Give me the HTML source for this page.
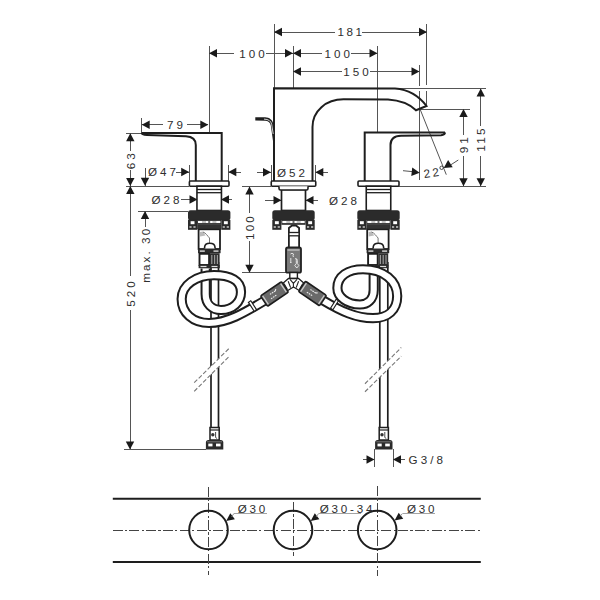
<!DOCTYPE html>
<html><head><meta charset="utf-8"><style>
html,body{margin:0;padding:0;background:#fff;width:600px;height:600px;overflow:hidden}
svg{display:block}
text{font-family:"Liberation Sans",sans-serif;fill:#2e2e2e}
</style></head><body>
<svg width="600" height="600" viewBox="0 0 600 600">
<rect width="600" height="600" fill="#fff"/>
<line x1="274" y1="24" x2="274" y2="88" stroke="#555555" stroke-width="1.0"  shape-rendering="crispEdges"/>
<line x1="426.3" y1="24" x2="426.3" y2="85" stroke="#555555" stroke-width="1.0"  shape-rendering="crispEdges"/>
<line x1="426.3" y1="90.5" x2="426.3" y2="105" stroke="#555555" stroke-width="1.0"  shape-rendering="crispEdges"/>
<line x1="274" y1="32" x2="335" y2="32" stroke="#555555" stroke-width="1.0"  shape-rendering="crispEdges"/>
<line x1="362" y1="32" x2="427" y2="32" stroke="#555555" stroke-width="1.0"  shape-rendering="crispEdges"/>
<polygon points="274.00,32.00 282.00,27.80 282.00,36.20" fill="#1a1a1a"/>
<polygon points="427.00,32.00 419.00,27.80 419.00,36.20" fill="#1a1a1a"/>
<text x="351" y="31.9" font-size="11.625" letter-spacing="2.6" text-anchor="middle" dominant-baseline="central">181</text>
<line x1="209" y1="46" x2="209" y2="133" stroke="#555555" stroke-width="1.0"  shape-rendering="crispEdges"/>
<line x1="293" y1="46" x2="293" y2="88" stroke="#555555" stroke-width="1.0"  shape-rendering="crispEdges"/>
<line x1="377.5" y1="46" x2="377.5" y2="133" stroke="#555555" stroke-width="1.0"  shape-rendering="crispEdges"/>
<line x1="209" y1="53.3" x2="234" y2="53.3" stroke="#555555" stroke-width="1.0"  shape-rendering="crispEdges"/>
<line x1="266" y1="53.3" x2="293" y2="53.3" stroke="#555555" stroke-width="1.0"  shape-rendering="crispEdges"/>
<polygon points="209.00,53.30 217.00,49.10 217.00,57.50" fill="#1a1a1a"/>
<polygon points="293.00,53.30 285.00,49.10 285.00,57.50" fill="#1a1a1a"/>
<text x="253.5" y="53.199999999999996" font-size="11.625" letter-spacing="3.1" text-anchor="middle" dominant-baseline="central">100</text>
<line x1="293" y1="53.3" x2="322" y2="53.3" stroke="#555555" stroke-width="1.0"  shape-rendering="crispEdges"/>
<line x1="351" y1="53.3" x2="377.5" y2="53.3" stroke="#555555" stroke-width="1.0"  shape-rendering="crispEdges"/>
<polygon points="293.00,53.30 301.00,49.10 301.00,57.50" fill="#1a1a1a"/>
<polygon points="377.50,53.30 369.50,49.10 369.50,57.50" fill="#1a1a1a"/>
<text x="338.8" y="53.199999999999996" font-size="11.625" letter-spacing="3.1" text-anchor="middle" dominant-baseline="central">100</text>
<line x1="419.8" y1="65" x2="419.8" y2="86" stroke="#555555" stroke-width="1.0"  shape-rendering="crispEdges"/>
<line x1="419.8" y1="91" x2="419.8" y2="179.5" stroke="#555555" stroke-width="1.0"  shape-rendering="crispEdges"/>
<line x1="293" y1="71.5" x2="342" y2="71.5" stroke="#555555" stroke-width="1.0"  shape-rendering="crispEdges"/>
<line x1="370" y1="71.5" x2="419.5" y2="71.5" stroke="#555555" stroke-width="1.0"  shape-rendering="crispEdges"/>
<polygon points="293.00,71.50 301.00,67.30 301.00,75.70" fill="#1a1a1a"/>
<polygon points="419.50,71.50 411.50,67.30 411.50,75.70" fill="#1a1a1a"/>
<text x="357.5" y="71.4" font-size="11.625" letter-spacing="3.1" text-anchor="middle" dominant-baseline="central">150</text>
<line x1="395" y1="88.5" x2="486" y2="88.5" stroke="#555555" stroke-width="1.0"  shape-rendering="crispEdges"/>
<line x1="480.75" y1="88.5" x2="480.75" y2="126.3" stroke="#555555" stroke-width="1.0"  shape-rendering="crispEdges"/>
<line x1="480.75" y1="156.3" x2="480.75" y2="186" stroke="#555555" stroke-width="1.0"  shape-rendering="crispEdges"/>
<polygon points="480.75,88.50 476.55,96.50 484.95,96.50" fill="#1a1a1a"/>
<polygon points="480.75,186.20 476.55,178.20 484.95,178.20" fill="#1a1a1a"/>
<text x="480.4" y="139" font-size="11.625" letter-spacing="2.4" text-anchor="middle" dominant-baseline="central" transform="rotate(-90 480.4 139)">115</text>
<line x1="420" y1="109" x2="470" y2="109" stroke="#555555" stroke-width="1.0"  shape-rendering="crispEdges"/>
<line x1="463.5" y1="109" x2="463.5" y2="134.5" stroke="#555555" stroke-width="1.0"  shape-rendering="crispEdges"/>
<line x1="463.5" y1="156.3" x2="463.5" y2="186" stroke="#555555" stroke-width="1.0"  shape-rendering="crispEdges"/>
<polygon points="463.50,109.00 459.30,117.00 467.70,117.00" fill="#1a1a1a"/>
<polygon points="463.50,186.20 459.30,178.20 467.70,178.20" fill="#1a1a1a"/>
<text x="463.29999999999995" y="143.8" font-size="11.625" letter-spacing="3.1" text-anchor="middle" dominant-baseline="central" transform="rotate(-90 463.29999999999995 143.8)">91</text>
<line x1="397" y1="186" x2="486" y2="186" stroke="#555555" stroke-width="1.0"  shape-rendering="crispEdges"/>
<line x1="420" y1="109" x2="446.3" y2="174.7" stroke="#555555" stroke-width="1.0" />
<line x1="403" y1="170.7" x2="412" y2="171.6" stroke="#555555" stroke-width="1.0" />
<polygon points="419.70,172.70 411.25,175.89 412.27,167.56" fill="#1a1a1a"/>
<line x1="458.3" y1="160" x2="451" y2="164.7" stroke="#555555" stroke-width="1.0" />
<polygon points="443.70,168.00 448.12,160.12 452.70,167.17" fill="#1a1a1a"/>
<text x="432.5" y="172.3" font-size="11.625" letter-spacing="2.6" text-anchor="middle" dominant-baseline="central" transform="rotate(-8 432.5 172.3)">22</text>
<circle cx="441.6" cy="167.8" r="1.7" fill="none" stroke="#333" stroke-width="0.9"/>
<line x1="141.7" y1="118" x2="141.7" y2="133" stroke="#555555" stroke-width="1.0"  shape-rendering="crispEdges"/>
<line x1="141.7" y1="124.7" x2="163" y2="124.7" stroke="#555555" stroke-width="1.0"  shape-rendering="crispEdges"/>
<line x1="187" y1="124.7" x2="208.3" y2="124.7" stroke="#555555" stroke-width="1.0"  shape-rendering="crispEdges"/>
<polygon points="141.70,124.70 149.70,120.50 149.70,128.90" fill="#1a1a1a"/>
<polygon points="208.30,124.70 200.30,120.50 200.30,128.90" fill="#1a1a1a"/>
<text x="176.5" y="124.60000000000001" font-size="11.625" letter-spacing="3.1" text-anchor="middle" dominant-baseline="central">79</text>
<line x1="125.5" y1="133.2" x2="141.7" y2="133.2" stroke="#555555" stroke-width="1.0"  shape-rendering="crispEdges"/>
<line x1="130.3" y1="133" x2="130.3" y2="150.7" stroke="#555555" stroke-width="1.0"  shape-rendering="crispEdges"/>
<line x1="130.3" y1="169.5" x2="130.3" y2="186" stroke="#555555" stroke-width="1.0"  shape-rendering="crispEdges"/>
<polygon points="130.30,133.20 126.10,141.20 134.50,141.20" fill="#1a1a1a"/>
<polygon points="130.30,186.00 126.10,178.00 134.50,178.00" fill="#1a1a1a"/>
<text x="130.9" y="159.8" font-size="11.625" letter-spacing="3.1" text-anchor="middle" dominant-baseline="central" transform="rotate(-90 130.9 159.8)">63</text>
<line x1="125.5" y1="186" x2="188.7" y2="186" stroke="#555555" stroke-width="1.0"  shape-rendering="crispEdges"/>
<line x1="189.2" y1="165" x2="189.2" y2="181" stroke="#555555" stroke-width="1.0"  shape-rendering="crispEdges"/>
<line x1="228.3" y1="165" x2="228.3" y2="181" stroke="#555555" stroke-width="1.0"  shape-rendering="crispEdges"/>
<line x1="176" y1="172" x2="189.2" y2="172" stroke="#555555" stroke-width="1.0"  shape-rendering="crispEdges"/>
<polygon points="189.20,172.00 181.20,167.80 181.20,176.20" fill="#1a1a1a"/>
<line x1="228.3" y1="172" x2="241" y2="172" stroke="#555555" stroke-width="1.0"  shape-rendering="crispEdges"/>
<polygon points="228.30,172.00 236.30,167.80 236.30,176.20" fill="#1a1a1a"/>
<text x="163.5" y="171.9" font-size="11.625" letter-spacing="3.1" text-anchor="middle" dominant-baseline="central">Ø47</text>
<line x1="145" y1="168" x2="145" y2="186" stroke="#555555" stroke-width="1.0"  shape-rendering="crispEdges"/>
<polygon points="145.00,185.80 140.80,177.80 149.20,177.80" fill="#1a1a1a"/>
<line x1="271" y1="165" x2="271" y2="181" stroke="#555555" stroke-width="1.0"  shape-rendering="crispEdges"/>
<line x1="315.3" y1="165" x2="315.3" y2="181" stroke="#555555" stroke-width="1.0"  shape-rendering="crispEdges"/>
<line x1="257" y1="172.3" x2="271" y2="172.3" stroke="#555555" stroke-width="1.0"  shape-rendering="crispEdges"/>
<polygon points="271.00,172.30 263.00,168.10 263.00,176.50" fill="#1a1a1a"/>
<line x1="315.3" y1="172.3" x2="328" y2="172.3" stroke="#555555" stroke-width="1.0"  shape-rendering="crispEdges"/>
<polygon points="315.30,172.30 323.30,168.10 323.30,176.50" fill="#1a1a1a"/>
<text x="292.5" y="172.20000000000002" font-size="11.625" letter-spacing="3.1" text-anchor="middle" dominant-baseline="central">Ø52</text>
<line x1="181" y1="199.5" x2="197.5" y2="199.5" stroke="#555555" stroke-width="1.0"  shape-rendering="crispEdges"/>
<polygon points="197.50,199.50 189.50,195.30 189.50,203.70" fill="#1a1a1a"/>
<line x1="221" y1="199.5" x2="232" y2="199.5" stroke="#555555" stroke-width="1.0"  shape-rendering="crispEdges"/>
<polygon points="221.00,199.50 229.00,195.30 229.00,203.70" fill="#1a1a1a"/>
<text x="167" y="199.4" font-size="11.625" letter-spacing="3.1" text-anchor="middle" dominant-baseline="central">Ø28</text>
<line x1="265" y1="200.3" x2="281.5" y2="200.3" stroke="#555555" stroke-width="1.0"  shape-rendering="crispEdges"/>
<polygon points="281.50,200.30 273.50,196.10 273.50,204.50" fill="#1a1a1a"/>
<line x1="305.5" y1="200.3" x2="318.3" y2="200.3" stroke="#555555" stroke-width="1.0"  shape-rendering="crispEdges"/>
<polygon points="305.50,200.30 313.50,196.10 313.50,204.50" fill="#1a1a1a"/>
<text x="344.5" y="200.20000000000002" font-size="11.625" letter-spacing="3.1" text-anchor="middle" dominant-baseline="central">Ø28</text>
<line x1="242" y1="186.5" x2="271" y2="186.5" stroke="#555555" stroke-width="1.0"  shape-rendering="crispEdges"/>
<line x1="242" y1="272.8" x2="286" y2="272.8" stroke="#555555" stroke-width="1.0"  shape-rendering="crispEdges"/>
<line x1="249.5" y1="186.5" x2="249.5" y2="213.3" stroke="#555555" stroke-width="1.0"  shape-rendering="crispEdges"/>
<line x1="249.5" y1="240.8" x2="249.5" y2="272.8" stroke="#555555" stroke-width="1.0"  shape-rendering="crispEdges"/>
<polygon points="249.50,186.50 245.30,194.50 253.70,194.50" fill="#1a1a1a"/>
<polygon points="249.50,272.80 245.30,264.80 253.70,264.80" fill="#1a1a1a"/>
<text x="249.1" y="227" font-size="11.625" letter-spacing="2.2" text-anchor="middle" dominant-baseline="central" transform="rotate(-90 249.1 227)">100</text>
<line x1="137.5" y1="211.3" x2="188" y2="211.3" stroke="#555555" stroke-width="1.0"  shape-rendering="crispEdges"/>
<line x1="145" y1="211.3" x2="145" y2="227" stroke="#555555" stroke-width="1.0"  shape-rendering="crispEdges"/>
<polygon points="145.00,211.00 140.80,219.00 149.20,219.00" fill="#1a1a1a"/>
<text x="145.4" y="254.8" font-size="11.625" letter-spacing="2.1" text-anchor="middle" dominant-baseline="central" transform="rotate(-90 145.4 254.8)">max. 30</text>
<line x1="130" y1="186" x2="130" y2="276" stroke="#555555" stroke-width="1.0"  shape-rendering="crispEdges"/>
<line x1="130" y1="310" x2="130" y2="449.5" stroke="#555555" stroke-width="1.0"  shape-rendering="crispEdges"/>
<polygon points="130.30,186.00 126.10,194.00 134.50,194.00" fill="#1a1a1a"/>
<polygon points="130.00,449.50 125.80,441.50 134.20,441.50" fill="#1a1a1a"/>
<text x="130.4" y="292.5" font-size="11.625" letter-spacing="3.1" text-anchor="middle" dominant-baseline="central" transform="rotate(-90 130.4 292.5)">520</text>
<line x1="124" y1="449.5" x2="206" y2="449.5" stroke="#555555" stroke-width="1.0"  shape-rendering="crispEdges"/>
<line x1="374.5" y1="449" x2="374.5" y2="467" stroke="#555555" stroke-width="1.0"  shape-rendering="crispEdges"/>
<line x1="393" y1="449" x2="393" y2="467" stroke="#555555" stroke-width="1.0"  shape-rendering="crispEdges"/>
<line x1="362.5" y1="459.5" x2="374.5" y2="459.5" stroke="#555555" stroke-width="1.0"  shape-rendering="crispEdges"/>
<polygon points="374.50,459.50 366.50,455.30 366.50,463.70" fill="#1a1a1a"/>
<line x1="393" y1="459.5" x2="405" y2="459.5" stroke="#555555" stroke-width="1.0"  shape-rendering="crispEdges"/>
<polygon points="393.00,459.50 401.00,455.30 401.00,463.70" fill="#1a1a1a"/>
<text x="408.5" y="459.4" font-size="11.625" letter-spacing="3.1" text-anchor="start" dominant-baseline="central">G3/8</text>
<rect x="211" y="262" width="7.5" height="166" fill="#fff"/>
<line x1="211" y1="262" x2="211" y2="428" stroke="#1e1e1e" stroke-width="1.7" />
<line x1="218.5" y1="262" x2="218.5" y2="428" stroke="#1e1e1e" stroke-width="1.7" />
<rect x="379.8" y="262" width="8.0" height="166" fill="#fff"/>
<line x1="379.8" y1="262" x2="379.8" y2="428" stroke="#1e1e1e" stroke-width="1.7" />
<line x1="387.8" y1="262" x2="387.8" y2="428" stroke="#1e1e1e" stroke-width="1.7" />
<polygon points="194.2,382.7 230,347.5 230,355.6 194.2,391.3" fill="#fff"/>
<line x1="194.2" y1="382.7" x2="230" y2="347.5" stroke="#777" stroke-width="1.1" stroke-dasharray="4.3 2"/>
<line x1="194.2" y1="391.3" x2="230" y2="355.6" stroke="#777" stroke-width="1.1" stroke-dasharray="4.3 2"/>
<polygon points="365,383.75 401.25,347.5 401.25,356.25 365,391.75" fill="#fff"/>
<line x1="365" y1="383.75" x2="401.25" y2="347.5" stroke="#777" stroke-width="1.1" stroke-dasharray="4.3 2"/>
<line x1="365" y1="391.75" x2="401.25" y2="356.25" stroke="#777" stroke-width="1.1" stroke-dasharray="4.3 2"/>
<rect x="210.0" y="427.5" width="9.2" height="12.5" rx="0" fill="#fff" stroke="#1e1e1e" stroke-width="1.5"/>
<line x1="210.0" y1="430" x2="219.2" y2="430" stroke="#1e1e1e" stroke-width="1.2" />
<path d="M205.9,449.5 L205.9,442.5 Q205.9,440 208.4,440 L220.79999999999998,440 Q223.29999999999998,440 223.29999999999998,442.5 L223.29999999999998,449.5 Z" fill="#2a2a2a"/>
<rect x="208.29999999999998" y="443.6" width="4.2" height="2.8" rx="0" fill="#fff" stroke="#1e1e1e" stroke-width="0"/>
<rect x="216.0" y="443.6" width="4.6" height="2.8" rx="0" fill="#fff" stroke="#1e1e1e" stroke-width="0"/>
<circle cx="212.79999999999998" cy="434.8" r="1.7" fill="#333"/>
<path d="M215.6,432 L215.6,437.5 L217.1,438.5" stroke="#333" stroke-width="0.9" fill="none"/>
<rect x="207.1" y="441.3" width="15" height="1" fill="#777"/>
<rect x="379.2" y="427.5" width="9.2" height="12.5" rx="0" fill="#fff" stroke="#1e1e1e" stroke-width="1.5"/>
<line x1="379.2" y1="430" x2="388.40000000000003" y2="430" stroke="#1e1e1e" stroke-width="1.2" />
<path d="M375.1,449.5 L375.1,442.5 Q375.1,440 377.6,440 L390.0,440 Q392.5,440 392.5,442.5 L392.5,449.5 Z" fill="#2a2a2a"/>
<rect x="377.5" y="443.6" width="4.2" height="2.8" rx="0" fill="#fff" stroke="#1e1e1e" stroke-width="0"/>
<rect x="385.2" y="443.6" width="4.6" height="2.8" rx="0" fill="#fff" stroke="#1e1e1e" stroke-width="0"/>
<circle cx="382.0" cy="434.8" r="1.7" fill="#333"/>
<path d="M384.8,432 L384.8,437.5 L386.3,438.5" stroke="#333" stroke-width="0.9" fill="none"/>
<rect x="376.3" y="441.3" width="15" height="1" fill="#777"/>
<path d="M141.7,133 L221.7,133 L221.7,181 M195.8,181 L195.8,145 C195.8,139.5 192,136.5 186,136.2 L147,135 C143,134.8 141.7,134 141.7,133" stroke="#1e1e1e" stroke-width="2.0" fill="none" />
<path d="M445,132.5 L364.7,132.5 L364.7,181 M390.5,181 L390.5,145 C390.5,139 393.5,136 401,135.8 L441,135.2 C444,135 445,134 445,132.5" stroke="#1e1e1e" stroke-width="2.0" fill="none" />
<path d="M274,181.5 L274,88.3 L395,88.5 C408,89.5 419,96 426.5,106 L416,110.3 C411,105.5 402,100.5 388,99.6 L343.5,99.3 C326,99.3 312.5,111 312.5,127 L312.5,181.5" stroke="#1e1e1e" stroke-width="2.0" fill="none" />
<path d="M255.3,117.2 L265,117.3 C269.5,117.4 272.6,120 273.3,124 L274.6,141 L273,141 L270.8,125.5 C270.3,122.3 268,120.9 265,120.8 L255.3,120.6 Z" fill="#1e1e1e"/>
<path d="M264,119.1 C268.5,119.2 271,121 271.7,124.3 L273.2,134" stroke="#fff" stroke-width="0.8" fill="none"/>
<rect x="189.39999999999998" y="181" width="39.6" height="5.2" rx="1" fill="#fff" stroke="#1e1e1e" stroke-width="1.6"/>
<rect x="196.95" y="186.2" width="24.5" height="24.3" rx="0" fill="#fff" stroke="#1e1e1e" stroke-width="1.6"/>
<line x1="196.95" y1="189.5" x2="221.45" y2="189.5" stroke="#1e1e1e" stroke-width="1.3" />
<line x1="196.95" y1="192.7" x2="221.45" y2="192.7" stroke="#1e1e1e" stroke-width="1.3" />
<rect x="188.0" y="210.3" width="42.4" height="10" rx="2.5" fill="#2b2b2b"/>
<rect x="188.0" y="219.8" width="9.1" height="10" fill="#2b2b2b"/>
<rect x="190.6" y="221.2" width="3.9" height="3" fill="#fff"/>
<rect x="189.4" y="226.4" width="2.2" height="1.2" fill="#eee"/>
<rect x="193.4" y="226.4" width="2.2" height="1.2" fill="#eee"/>
<rect x="221.29999999999998" y="219.8" width="9.1" height="10" fill="#2b2b2b"/>
<rect x="223.89999999999998" y="221.2" width="3.9" height="3" fill="#fff"/>
<rect x="222.7" y="226.4" width="2.2" height="1.2" fill="#eee"/>
<rect x="226.7" y="226.4" width="2.2" height="1.2" fill="#eee"/>
<rect x="197.1" y="219.8" width="24.2" height="5" fill="#2b2b2b"/>
<rect x="198.0" y="220.9" width="22.4" height="2.2" fill="#fff"/>
<rect x="202.0" y="221.6" width="4" height="0.8" fill="#666"/>
<rect x="212.39999999999998" y="221.6" width="4" height="0.8" fill="#666"/>
<rect x="208.2" y="221.2" width="2" height="1.6" fill="#444"/>
<rect x="197.1" y="224.5" width="24.2" height="4.8" fill="#333"/>
<rect x="198.0" y="228.8" width="22.4" height="1.6" fill="#999"/>
<rect x="271.25" y="181" width="44.5" height="5.2" rx="1" fill="#fff" stroke="#1e1e1e" stroke-width="1.6"/>
<rect x="281.5" y="189.5" width="24" height="21" rx="0" fill="#fff" stroke="#1e1e1e" stroke-width="1.7"/>
<path d="M279.0,186.2 L279.0,188.5 Q279.0,190 280.5,190 L306.5,190 Q308.0,190 308.0,188.5 L308.0,186.2" fill="#fff" stroke="#1e1e1e" stroke-width="1.6"/>
<rect x="272.3" y="210.3" width="42.4" height="10" rx="2.5" fill="#2b2b2b"/>
<rect x="272.3" y="219.8" width="9.1" height="10" fill="#2b2b2b"/>
<rect x="274.90000000000003" y="221.2" width="3.9" height="3" fill="#fff"/>
<rect x="273.7" y="226.4" width="2.2" height="1.2" fill="#eee"/>
<rect x="277.7" y="226.4" width="2.2" height="1.2" fill="#eee"/>
<rect x="305.59999999999997" y="219.8" width="9.1" height="10" fill="#2b2b2b"/>
<rect x="308.2" y="221.2" width="3.9" height="3" fill="#fff"/>
<rect x="306.99999999999994" y="226.4" width="2.2" height="1.2" fill="#eee"/>
<rect x="310.99999999999994" y="226.4" width="2.2" height="1.2" fill="#eee"/>
<rect x="281.40000000000003" y="219.8" width="24.2" height="5" fill="#2b2b2b"/>
<rect x="282.3" y="220.9" width="22.4" height="2.2" fill="#fff"/>
<rect x="286.3" y="221.6" width="4" height="0.8" fill="#666"/>
<rect x="296.7" y="221.6" width="4" height="0.8" fill="#666"/>
<rect x="292.5" y="221.2" width="2" height="1.6" fill="#444"/>
<rect x="358.0" y="181" width="41" height="5.2" rx="1" fill="#fff" stroke="#1e1e1e" stroke-width="1.6"/>
<rect x="366.25" y="186.2" width="24.5" height="24.3" rx="0" fill="#fff" stroke="#1e1e1e" stroke-width="1.6"/>
<line x1="366.25" y1="189.5" x2="390.75" y2="189.5" stroke="#1e1e1e" stroke-width="1.3" />
<line x1="366.25" y1="192.7" x2="390.75" y2="192.7" stroke="#1e1e1e" stroke-width="1.3" />
<rect x="357.3" y="210.3" width="42.4" height="10" rx="2.5" fill="#2b2b2b"/>
<rect x="357.3" y="219.8" width="9.1" height="10" fill="#2b2b2b"/>
<rect x="359.90000000000003" y="221.2" width="3.9" height="3" fill="#fff"/>
<rect x="358.7" y="226.4" width="2.2" height="1.2" fill="#eee"/>
<rect x="362.7" y="226.4" width="2.2" height="1.2" fill="#eee"/>
<rect x="390.59999999999997" y="219.8" width="9.1" height="10" fill="#2b2b2b"/>
<rect x="393.2" y="221.2" width="3.9" height="3" fill="#fff"/>
<rect x="391.99999999999994" y="226.4" width="2.2" height="1.2" fill="#eee"/>
<rect x="395.99999999999994" y="226.4" width="2.2" height="1.2" fill="#eee"/>
<rect x="366.40000000000003" y="219.8" width="24.2" height="5" fill="#2b2b2b"/>
<rect x="367.3" y="220.9" width="22.4" height="2.2" fill="#fff"/>
<rect x="371.3" y="221.6" width="4" height="0.8" fill="#666"/>
<rect x="381.7" y="221.6" width="4" height="0.8" fill="#666"/>
<rect x="377.5" y="221.2" width="2" height="1.6" fill="#444"/>
<rect x="366.40000000000003" y="224.5" width="24.2" height="4.8" fill="#333"/>
<rect x="367.3" y="228.8" width="22.4" height="1.6" fill="#999"/>
<rect x="198.6" y="229.3" width="21.4" height="19.7" rx="0" fill="#fff" stroke="#1e1e1e" stroke-width="1.8"/>
<path d="M200,232 L203,231.5 L205.5,235.5 L200,236.5 Z" fill="#bbb"/>
<path d="M203,232 C206,233 207.5,236 209.5,238 L209.5,243" stroke="#777" stroke-width="1.0" fill="none" />
<path d="M204.6,248.5 L204.6,247 Q205,243.3 209.8,243.3 Q214.6,243.3 215,247 L215,248.5" stroke="#1e1e1e" stroke-width="1.6" fill="#fff" />
<rect x="198" y="249" width="22.6" height="4.2" fill="#2a2a2a"/>
<rect x="199.8" y="250.4" width="5" height="1.4" fill="#ddd"/>
<rect x="213.5" y="250.4" width="5" height="1.4" fill="#ddd"/>
<rect x="199.5" y="253.8" width="9.6" height="11.2" rx="0" fill="#fff" stroke="#1e1e1e" stroke-width="1.9"/>
<rect x="209.8" y="253.2" width="9.8" height="12.4" fill="#2e2e2e"/>
<rect x="211.2" y="255" width="1.2" height="9" fill="#999"/>
<rect x="214.0" y="255" width="1.2" height="9" fill="#999"/>
<rect x="216.8" y="255" width="1.2" height="9" fill="#999"/>
<rect x="198.6" y="265" width="21.2" height="3.2" fill="#2a2a2a"/>
<rect x="200.5" y="265.9" width="6" height="1.2" fill="#ddd"/>
<rect x="211.5" y="265.9" width="6" height="1.2" fill="#ddd"/>
<rect x="367.2" y="229.3" width="21.4" height="19.7" rx="0" fill="#fff" stroke="#1e1e1e" stroke-width="1.8"/>
<path d="M368.6,232 L371.6,231.5 L374.1,235.5 L368.6,236.5 Z" fill="#bbb"/>
<path d="M371.6,232 C374.6,233 376.1,236 378.1,238 L378.1,243" stroke="#777" stroke-width="1.0" fill="none" />
<path d="M373.2,248.5 L373.2,247 Q373.6,243.3 378.4,243.3 Q383.2,243.3 383.6,247 L383.6,248.5" stroke="#1e1e1e" stroke-width="1.6" fill="#fff" />
<rect x="366.6" y="249" width="22.6" height="4.2" fill="#2a2a2a"/>
<rect x="368.4" y="250.4" width="5" height="1.4" fill="#ddd"/>
<rect x="382.1" y="250.4" width="5" height="1.4" fill="#ddd"/>
<rect x="368.1" y="253.8" width="9.6" height="11.2" rx="0" fill="#fff" stroke="#1e1e1e" stroke-width="1.9"/>
<rect x="378.4" y="253.2" width="9.8" height="12.4" fill="#2e2e2e"/>
<rect x="379.8" y="255" width="1.2" height="9" fill="#999"/>
<rect x="382.6" y="255" width="1.2" height="9" fill="#999"/>
<rect x="385.4" y="255" width="1.2" height="9" fill="#999"/>
<rect x="367.2" y="265" width="21.2" height="3.2" fill="#2a2a2a"/>
<rect x="369.1" y="265.9" width="6" height="1.2" fill="#ddd"/>
<rect x="380.1" y="265.9" width="6" height="1.2" fill="#ddd"/>
<path d="M288.9,247.6 L288.9,228 L292,225.5 L296,225.5 L299.1,228 L299.1,247.6" fill="#fff" stroke="#222" stroke-width="1.8"/>
<rect x="288.9" y="232.5" width="10.2" height="3.3" fill="#fff" stroke="#222" stroke-width="1.3"/>
<rect x="286" y="247.5" width="15" height="25.2" rx="1.8" fill="#7a7a7a" stroke="#222" stroke-width="1.8"/>
<rect x="287.5" y="249" width="12" height="2" fill="#aaa"/>
<path d="M290.5,254 q1.5,-1.5 3,0 q-1,2 0,3 M290.8,258 l0,4.5 M291.5,262.5 l-1.4,0 M295.5,258.5 q1.8,0 1.8,2 l0,3 l1.5,2 l-2,2.5 l-2,-2.5 l1.5,-2 l0,-3 q0,-2 -0.8,-2" stroke="#eee" stroke-width="0.9" fill="none" />
<rect x="289.8" y="272.5" width="7.6" height="6" rx="0" fill="#fff" stroke="#1e1e1e" stroke-width="1.4"/>
<path d="M288.5,278.5 L298.5,278.5 L305,284 L300,291 L293.5,287 L287,291 L282,284 Z" fill="#fff" stroke="#1e1e1e" stroke-width="1.3"/>
<path d="M290,279.3 L293.4,283.3 L297,279.3 M293.4,283.3 L293.4,287.5 M284,283.5 L287.3,289.2 M288.2,281.2 L290.6,287.6 M302.8,283.5 L299.5,289.2 M298.6,281.2 L296.2,287.6" stroke="#222" stroke-width="1.1" fill="none" />
<path d="M205.65,268.5 L205.65,294 C205.65,304 212,310 221,310 C233,310 241,302 241,292 C241,281 231,275.2 214,275.2" stroke="#1e1e1e" stroke-width="10.2" fill="none" stroke-linecap="butt"/>
<path d="M205.65,268.5 L205.65,294 C205.65,304 212,310 221,310 C233,310 241,302 241,292 C241,281 231,275.2 214,275.2" stroke="#fff" stroke-width="6.199999999999999" fill="none" stroke-linecap="butt"/>
<path d="M214,275.2 C196,275.2 181.65,285 181.65,299 C181.65,313 193,323 209,323 C227,323 244,313 264,301" stroke="#1e1e1e" stroke-width="10.2" fill="none" stroke-linecap="butt"/>
<path d="M214,275.2 C196,275.2 181.65,285 181.65,299 C181.65,313 193,323 209,323 C227,323 244,313 264,301" stroke="#fff" stroke-width="6.199999999999999" fill="none" stroke-linecap="butt"/>
<path d="M373.7,268.5 L373.7,290 C373.7,300 367,304.5 360,304.5 C347,304.5 337.4,297 337.4,288 C337.4,276 348,269.25 363,269.25" stroke="#1e1e1e" stroke-width="10.2" fill="none" stroke-linecap="butt"/>
<path d="M373.7,268.5 L373.7,290 C373.7,300 367,304.5 360,304.5 C347,304.5 337.4,297 337.4,288 C337.4,276 348,269.25 363,269.25" stroke="#fff" stroke-width="6.199999999999999" fill="none" stroke-linecap="butt"/>
<path d="M363,269.25 C384,269.25 397.2,281 397.2,296 C397.2,310 388,318.2 373,318.2 C356,318.2 341,311 323,300.3" stroke="#1e1e1e" stroke-width="10.2" fill="none" stroke-linecap="butt"/>
<path d="M363,269.25 C384,269.25 397.2,281 397.2,296 C397.2,310 388,318.2 373,318.2 C356,318.2 341,311 323,300.3" stroke="#fff" stroke-width="6.199999999999999" fill="none" stroke-linecap="butt"/>
<g transform="translate(252.5 306) rotate(-33)"><rect x="-1.4" y="-5.3" width="2.8" height="10.6" fill="#fff" stroke="#1e1e1e" stroke-width="1.2"/></g>
<g transform="translate(334.5 304.5) rotate(32)"><rect x="-1.4" y="-5.3" width="2.8" height="10.6" fill="#fff" stroke="#1e1e1e" stroke-width="1.2"/></g>
<g transform="translate(274.5 294) rotate(-34)"><rect x="-12.75" y="-6.3" width="25.5" height="12.6" rx="1.5" fill="#6a6a6a" stroke="#1e1e1e" stroke-width="1.6"/><rect x="-11.45" y="-5.1" width="1.3" height="10.2" fill="#ccc"/><rect x="10.15" y="-5.1" width="1.3" height="10.2" fill="#ccc"/><path d="M-4,-2.2 l1.6,0 m0.8,0 l1.6,0 m0.8,0 l1.6,0 l1.5,-1.2 M-5.5,2 l1.6,0 m0.8,0 l1.6,0 m0.8,0 l1.6,0" stroke="#eee" stroke-width="1.1" fill="none"/></g>
<g transform="translate(312.5 293.5) rotate(34)"><rect x="-12.75" y="-6.3" width="25.5" height="12.6" rx="1.5" fill="#6a6a6a" stroke="#1e1e1e" stroke-width="1.6"/><rect x="-11.45" y="-5.1" width="1.3" height="10.2" fill="#ccc"/><rect x="10.15" y="-5.1" width="1.3" height="10.2" fill="#ccc"/><path d="M-4,-2.2 l1.6,0 m0.8,0 l1.6,0 m0.8,0 l1.6,0 l1.5,-1.2 M-5.5,2 l1.6,0 m0.8,0 l1.6,0 m0.8,0 l1.6,0" stroke="#eee" stroke-width="1.1" fill="none"/></g>
<line x1="112.8" y1="498.8" x2="480.8" y2="498.8" stroke="#1e1e1e" stroke-width="2" />
<line x1="112.8" y1="562" x2="480.8" y2="562" stroke="#1e1e1e" stroke-width="2" />
<line x1="112.5" y1="530.3" x2="480" y2="530.3" stroke="#444" stroke-width="1" stroke-dasharray="10 2.3 2.2 2.3" shape-rendering="crispEdges"/>
<line x1="208.5" y1="486.5" x2="208.5" y2="575" stroke="#444" stroke-width="1" stroke-dasharray="10 2.3 2.2 2.3" shape-rendering="crispEdges"/>
<circle cx="208.5" cy="530" r="19.3" fill="none" stroke="#1e1e1e" stroke-width="2"/>
<line x1="293" y1="502" x2="293" y2="556" stroke="#444" stroke-width="1" stroke-dasharray="10 2.3 2.2 2.3" shape-rendering="crispEdges"/>
<circle cx="293" cy="530" r="19.3" fill="none" stroke="#1e1e1e" stroke-width="2"/>
<line x1="377.2" y1="486" x2="377.2" y2="576" stroke="#444" stroke-width="1" stroke-dasharray="10 2.3 2.2 2.3" shape-rendering="crispEdges"/>
<circle cx="377.2" cy="530" r="19.3" fill="none" stroke="#1e1e1e" stroke-width="2"/>
<polygon points="226.20,521.00 230.30,513.15 234.88,519.22" fill="#1a1a1a"/>
<line x1="231.7" y1="516.8" x2="234" y2="513.4" stroke="#888" stroke-width="0.9" />
<line x1="234" y1="513.4" x2="267" y2="513.4" stroke="#999" stroke-width="0.9"  shape-rendering="crispEdges"/>
<text x="252.8" y="508.7" font-size="11.625" letter-spacing="2.8000000000000003" text-anchor="middle" dominant-baseline="central">Ø30</text>
<polygon points="310.70,521.00 314.80,513.15 319.38,519.22" fill="#1a1a1a"/>
<line x1="316.2" y1="516.8" x2="318.7" y2="513.4" stroke="#888" stroke-width="0.9" />
<line x1="318.7" y1="513.4" x2="361" y2="513.4" stroke="#999" stroke-width="0.9"  shape-rendering="crispEdges"/>
<text x="347.5" y="508.7" font-size="11.625" letter-spacing="2.8000000000000003" text-anchor="middle" dominant-baseline="central">Ø30-34</text>
<polygon points="394.60,520.50 398.70,512.65 403.28,518.72" fill="#1a1a1a"/>
<line x1="400.1" y1="516.3" x2="402.5" y2="513.4" stroke="#888" stroke-width="0.9" />
<line x1="402.5" y1="513.4" x2="435" y2="513.4" stroke="#999" stroke-width="0.9"  shape-rendering="crispEdges"/>
<text x="422.2" y="508.7" font-size="11.625" letter-spacing="2.8000000000000003" text-anchor="middle" dominant-baseline="central">Ø30</text>
</svg></body></html>
